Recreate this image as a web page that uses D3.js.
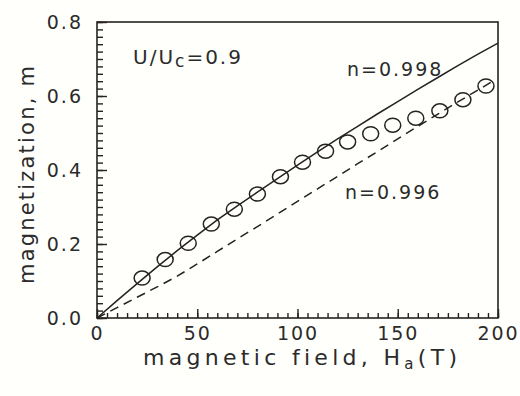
<!DOCTYPE html>
<html>
<head>
<meta charset="utf-8">
<script src="https://cdn.jsdelivr.net/npm/d3@7"></script>
<style>
  html, body { margin: 0; padding: 0; background: #fffffb; }
  svg { display: block; }
  text { font-family: "DejaVu Sans", sans-serif; fill: #2b2b2b; }
</style>
</head>
<body>
<svg id="chart" width="520" height="396"></svg>
<script>
// Theoretical curve, n = 0.998 (solid)
const fieldFine = [0, 10, 20, 30, 40, 50, 60, 70, 80, 90, 100, 110, 120, 130, 140, 150, 160, 170, 180, 190, 200];
const magN998 = [0, 0.047, 0.093, 0.138, 0.182, 0.224, 0.265, 0.303, 0.340, 0.377, 0.413, 0.449, 0.484, 0.518, 0.552, 0.585, 0.618, 0.650, 0.682, 0.713, 0.743];

// Theoretical curve, n = 0.996 (dashed)
const fieldDash = [0, 10, 20, 30, 40, 50, 60, 70, 80, 90, 100, 110, 120, 130, 140, 150, 160, 170, 180, 190, 198];
const magN996 = [0, 0.028, 0.056, 0.084, 0.113, 0.146, 0.180, 0.214, 0.247, 0.281, 0.315, 0.349, 0.383, 0.417, 0.450, 0.484, 0.518, 0.551, 0.584, 0.616, 0.642];

// Measured magnetization (open circles)
const fieldObs = [22.5, 34, 45.5, 57, 68.5, 80, 91.5, 102.5, 114, 125, 136.5, 147.5, 159, 171, 182.5, 194];
const magObs = [0.108, 0.158, 0.202, 0.254, 0.294, 0.335, 0.382, 0.421, 0.451, 0.476, 0.498, 0.521, 0.540, 0.560, 0.590, 0.627];

// Axis ticks
const xMajorTicks = [0, 50, 100, 150, 200];
const xMinorTicks = d3.range(0, 201, 5);
const yMajorTicks = [0, 0.2, 0.4, 0.6, 0.8];
const yMinorTicks = d3.range(0, 0.801, 0.02);

const frame = { left: 97, right: 498, top: 22, bottom: 318 };
const ink = "#262222";

const svg = d3.select("#chart");

const x = d3.scaleLinear().domain([0, 200]).range([frame.left, frame.right]);
const y = d3.scaleLinear().domain([0, 0.8]).range([frame.bottom, frame.top]);

// Plot frame (box)
svg.append("rect")
  .attr("x", frame.left).attr("y", frame.top)
  .attr("width", frame.right - frame.left)
  .attr("height", frame.bottom - frame.top)
  .attr("fill", "none").attr("stroke", ink).attr("stroke-width", 1.6);

// Bottom axis: inward minor ticks, longer majors with labels
const gx = svg.append("g").attr("transform", `translate(0,${frame.bottom})`);
gx.append("g").call(d3.axisBottom(x).tickValues(xMinorTicks).tickSize(-5).tickFormat(""));
gx.append("g").call(d3.axisBottom(x).tickValues(xMajorTicks).tickSize(-9).tickPadding(9).tickFormat(d3.format("d")));

// Left axis
const gy = svg.append("g").attr("transform", `translate(${frame.left},0)`);
gy.append("g").call(d3.axisLeft(y).tickValues(yMinorTicks).tickSize(-6).tickFormat(""));
gy.append("g").call(d3.axisLeft(y).tickValues(yMajorTicks).tickSize(-10).tickPadding(14).tickFormat(d3.format(".1f")));

svg.selectAll(".domain").remove();
svg.selectAll(".tick line").attr("stroke", ink).attr("stroke-width", 1.4);
svg.selectAll(".tick text")
  .attr("fill", "#2b2b2b")
  .style("font-family", "'DejaVu Sans', sans-serif")
  .style("font-size", "19px")
  .style("letter-spacing", "2px");

// Curves
const line = d3.line().x(d => x(d[0])).y(d => y(d[1]));

svg.append("path")
  .datum(d3.zip(fieldFine, magN998))
  .attr("d", line)
  .attr("fill", "none").attr("stroke", ink).attr("stroke-width", 1.5);

svg.append("path")
  .datum(d3.zip(fieldDash, magN996))
  .attr("d", line)
  .attr("fill", "none").attr("stroke", ink).attr("stroke-width", 1.5)
  .attr("stroke-dasharray", "9,6");

// Data points
svg.append("g").selectAll("ellipse")
  .data(d3.zip(fieldObs, magObs))
  .join("ellipse")
  .attr("cx", d => x(d[0])).attr("cy", d => y(d[1]))
  .attr("rx", 8).attr("ry", 7)
  .attr("fill", "none").attr("stroke", ink).attr("stroke-width", 1.5);

// Annotations
const ann = svg.append("g").style("font-size", "19px").style("letter-spacing", "2px");

const uLabel = ann.append("text").attr("x", 133).attr("y", 64).style("font-size", "20px");
uLabel.append("tspan").text("U/U");
uLabel.append("tspan").attr("dy", 3).style("font-size", "17px").text("c");
uLabel.append("tspan").attr("dy", -3).text("=0.9");

ann.append("text").attr("x", 347).attr("y", 76).text("n=0.998");
ann.append("text").attr("x", 345).attr("y", 199).text("n=0.996");

// Axis titles
const xTitle = svg.append("text")
  .attr("x", 143).attr("y", 365)
  .style("font-size", "22px").style("letter-spacing", "4.3px");
xTitle.append("tspan").text("magnetic field, H");
xTitle.append("tspan").attr("dy", 4).style("font-size", "15px").text("a");
xTitle.append("tspan").attr("dy", -4).text("(T)");

svg.append("text")
  .attr("transform", `translate(34,174) rotate(-90)`)
  .attr("text-anchor", "middle")
  .style("font-size", "21px").style("letter-spacing", "2.2px")
  .text("magnetization, m");
</script>
</body>
</html>
